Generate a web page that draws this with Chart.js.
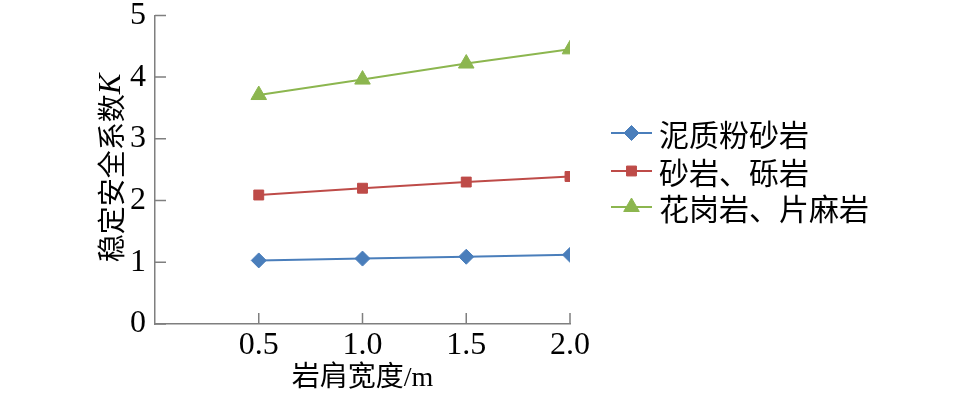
<!DOCTYPE html>
<html>
<head>
<meta charset="utf-8">
<script src="https://cdn.jsdelivr.net/npm/chart.js@4.4.1/dist/chart.umd.min.js"></script>
<style>
  html, body { margin: 0; padding: 0; background: #fff; }
  #wrap { width: 957px; height: 395px; position: relative; }
</style>
</head>
<body>
<div id="wrap"><canvas id="chart"></canvas></div>
<script>
const X_VALUES = [0.5, 1.0, 1.5, 2.0];
const X_TICKS = [0.5, 1.0, 1.5, 2.0];
const Y_TICKS = [0, 1, 2, 3, 4, 5];

const SERIES_NAMES = ['泥质粉砂岩', '砂岩、砾岩', '花岗岩、片麻岩'];
const MUDSTONE = [1.03, 1.06, 1.09, 1.12];
const SANDSTONE = [2.09, 2.20, 2.30, 2.39];
const GRANITE = [3.71, 3.96, 4.22, 4.45];

const COLORS = ['#4a7ebb', '#be4b48', '#8cb64f'];
const MARKERS = ['rectRot', 'rect', 'triangle'];
const MARKER_R = [7.5, 7, 9];

const FONT = '"Liberation Serif", "Noto Sans CJK SC", serif';
const CJK = '"Noto Sans CJK SC", sans-serif';
const AXIS_COLOR = '#7f7f7f';

const pts = vals => vals.map((v, i) => ({ x: X_VALUES[i], y: v }));

// ticks drawn inward, y title with italic K, legend with line+marker
const decor = {
  id: 'decor',
  afterDraw(chart) {
    const { ctx, scales: { x, y }, chartArea } = chart;
    ctx.save();
    ctx.strokeStyle = AXIS_COLOR;
    ctx.lineWidth = 1.5;
    ctx.beginPath();
    X_TICKS.forEach(t => {
      const px = x.getPixelForValue(t);
      ctx.moveTo(px, chartArea.bottom);
      ctx.lineTo(px, chartArea.bottom - 11);
    });
    Y_TICKS.forEach(t => {
      const py = y.getPixelForValue(t);
      ctx.moveTo(chartArea.left, py);
      ctx.lineTo(chartArea.left + 11, py);
    });
    ctx.stroke();

    // y axis title
    ctx.fillStyle = '#000';
    ctx.translate(111, 168);
    ctx.rotate(-Math.PI / 2);
    ctx.textBaseline = 'middle';
    const main = '稳定安全系数';
    ctx.font = '28px ' + CJK;
    const w1 = ctx.measureText(main).width;
    ctx.font = 'italic 31px "Liberation Serif", serif';
    const w2 = ctx.measureText('K').width;
    const start = -(w1 + w2) / 2;
    ctx.font = '28px ' + CJK;
    ctx.fillText(main, start, 0);
    ctx.font = 'italic 31px "Liberation Serif", serif';
    ctx.fillText('K', start + w1, 1);
    ctx.restore();

    // legend
    ctx.save();
    const lx = chartArea.right + 41;
    const rows = [133, 171, 207];
    chart.data.datasets.forEach((ds, i) => {
      const yy = rows[i];
      ctx.strokeStyle = ds.borderColor;
      ctx.lineWidth = 2;
      ctx.beginPath();
      ctx.moveTo(lx, yy);
      ctx.lineTo(lx + 41, yy);
      ctx.stroke();
      ctx.fillStyle = ds.backgroundColor;
      ctx.strokeStyle = ds.borderColor;
      ctx.lineWidth = 1;
      Chart.helpers.drawPoint(ctx, {
        pointStyle: ds.pointStyle, radius: ds.pointRadius, borderWidth: 1
      }, lx + 20.5, yy);
      ctx.fillStyle = '#000';
      ctx.font = '30px ' + CJK;
      ctx.textBaseline = 'middle';
      ctx.fillText(ds.label, lx + 48, yy + 2);
    });
    ctx.restore();
  }
};

new Chart(document.getElementById('chart'), {
  type: 'line',
  data: {
    datasets: [MUDSTONE, SANDSTONE, GRANITE].map((vals, i) => ({
      label: SERIES_NAMES[i],
      data: pts(vals),
      borderColor: COLORS[i],
      backgroundColor: COLORS[i],
      borderWidth: 2,
      pointStyle: MARKERS[i],
      pointRadius: MARKER_R[i],
      pointHoverRadius: MARKER_R[i],
      pointBorderWidth: 1,
      tension: 0,
    })),
  },
  options: {
    responsive: true, maintainAspectRatio: false,
    animation: false,
    layout: { padding: { left: 0, right: 387, top: 15, bottom: 0 } },
    plugins: { legend: { display: false }, tooltip: { enabled: false } },
    scales: {
      x: {
        type: 'linear', min: 0, max: 2,
        afterBuildTicks: s => { s.ticks = X_TICKS.map(v => ({ value: v })); },
        afterFit: s => { s.height = 71; },
        grid: { display: false, drawTicks: false },
        border: { display: true, color: AXIS_COLOR, width: 1.5 },
        ticks: {
          color: '#000', padding: 2,
          font: { family: FONT, size: 32 },
          callback: v => Number(v).toFixed(1),
        },
        title: {
          display: true, text: '岩肩宽度/m', color: '#000',
          font: { family: FONT, size: 28 }, padding: { top: 4, bottom: 0 },
        },
      },
      y: {
        min: 0, max: 5,
        afterBuildTicks: s => { s.ticks = Y_TICKS.map(v => ({ value: v })); },
        afterFit: s => { s.width = 155; },
        grid: { display: false, drawTicks: false },
        border: { display: true, color: AXIS_COLOR, width: 1.5 },
        ticks: {
          color: '#000', padding: 9,
          font: { family: FONT, size: 32, lineHeight: 0.4 },
        },
      },
    },
  },
  plugins: [decor],
});
</script>
</body>
</html>
